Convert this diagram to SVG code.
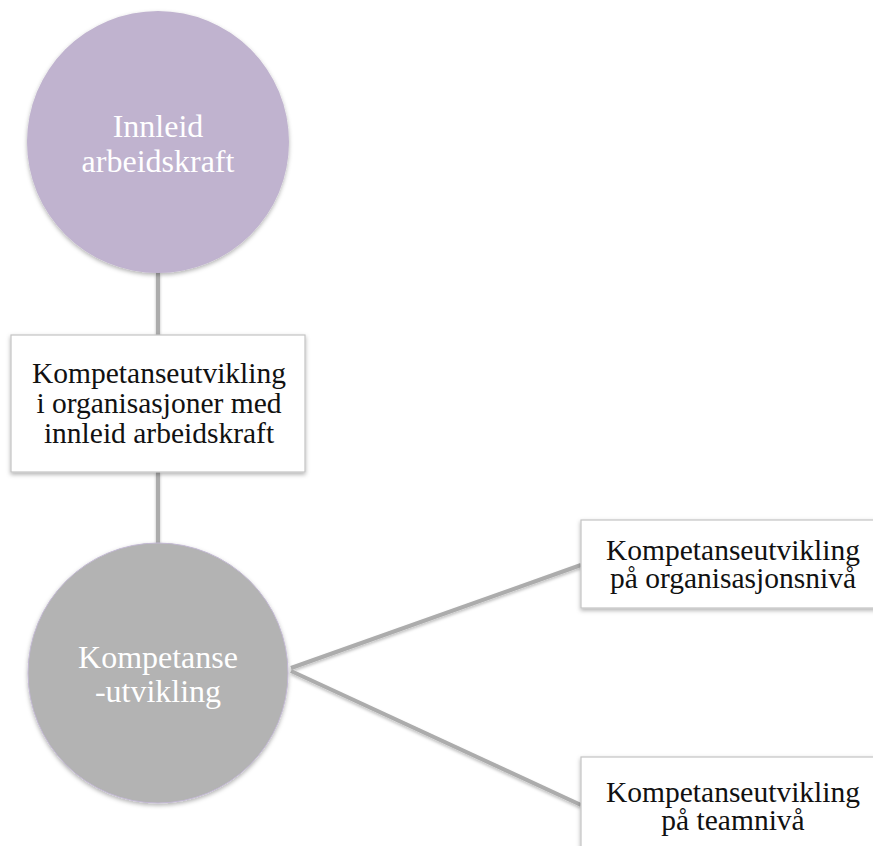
<svg xmlns="http://www.w3.org/2000/svg" width="873" height="846" viewBox="0 0 873 846">
  <defs>
    <filter id="shadow" x="-20%" y="-20%" width="140%" height="140%">
      <feDropShadow dx="0" dy="2" stdDeviation="2" flood-color="#000" flood-opacity="0.3"/>
    </filter>
    <!-- user-space filter so straight vertical lines keep their shadow -->
    <filter id="line-shadow" filterUnits="userSpaceOnUse" x="0" y="0" width="873" height="846">
      <feDropShadow dx="0" dy="2" stdDeviation="1.5" flood-color="#000" flood-opacity="0.25"/>
    </filter>
  </defs>
  <style>
    .link { stroke: #acacac; stroke-width: 4; fill: none; }
    .box { fill: #ffffff; stroke: #c4c4c4; stroke-width: 1.2; filter: url(#shadow); }
    .box-text { font-family: "Liberation Serif", "DejaVu Serif", serif; font-size: 29.5px; fill: #111111; text-anchor: middle; }
    .circle-text { font-family: "Liberation Serif", "DejaVu Serif", serif; font-size: 32px; fill: #ffffff; text-anchor: middle; }
  </style>
  <rect width="873" height="846" fill="#ffffff"/>

  <!-- connectors -->
  <g id="connectors" filter="url(#line-shadow)">
    <line class="link" x1="158" y1="272" x2="158" y2="336"/>
    <line class="link" x1="158" y1="471" x2="158" y2="544"/>
    <line class="link" x1="291" y1="668" x2="581" y2="565"/>
    <line class="link" x1="291" y1="671" x2="581" y2="805"/>
  </g>

  <!-- hired workforce -->
  <g id="node-innleid">
    <circle cx="158" cy="142" r="131" fill="#c0b3cf" filter="url(#shadow)"/>
    <text class="circle-text" x="158" y="137">Innleid</text>
    <text class="circle-text" x="158" y="172">arbeidskraft</text>
  </g>

  <!-- topic box -->
  <g id="node-tema">
    <rect class="box" x="11" y="335" width="294" height="137"/>
    <text class="box-text" x="159" y="383">Kompetanseutvikling</text>
    <text class="box-text" x="159" y="413">i organisasjoner med</text>
    <text class="box-text" x="159" y="443">innleid arbeidskraft</text>
  </g>

  <!-- competence development -->
  <g id="node-kompetanse">
    <circle cx="158" cy="673" r="130" fill="#b3b3b3" stroke="#c2b8d2" stroke-width="1" filter="url(#shadow)"/>
    <text class="circle-text" x="158" y="668">Kompetanse</text>
    <text class="circle-text" x="158" y="702">-utvikling</text>
  </g>

  <!-- organisation level -->
  <g id="node-organisasjon">
    <rect class="box" x="581" y="520" width="300" height="88"/>
    <text class="box-text" x="733" y="560">Kompetanseutvikling</text>
    <text class="box-text" x="733" y="588">på organisasjonsnivå</text>
  </g>

  <!-- team level -->
  <g id="node-team">
    <rect class="box" x="581" y="757" width="300" height="100"/>
    <text class="box-text" x="733" y="802">Kompetanseutvikling</text>
    <text class="box-text" x="733" y="830">på teamnivå</text>
  </g>
</svg>
